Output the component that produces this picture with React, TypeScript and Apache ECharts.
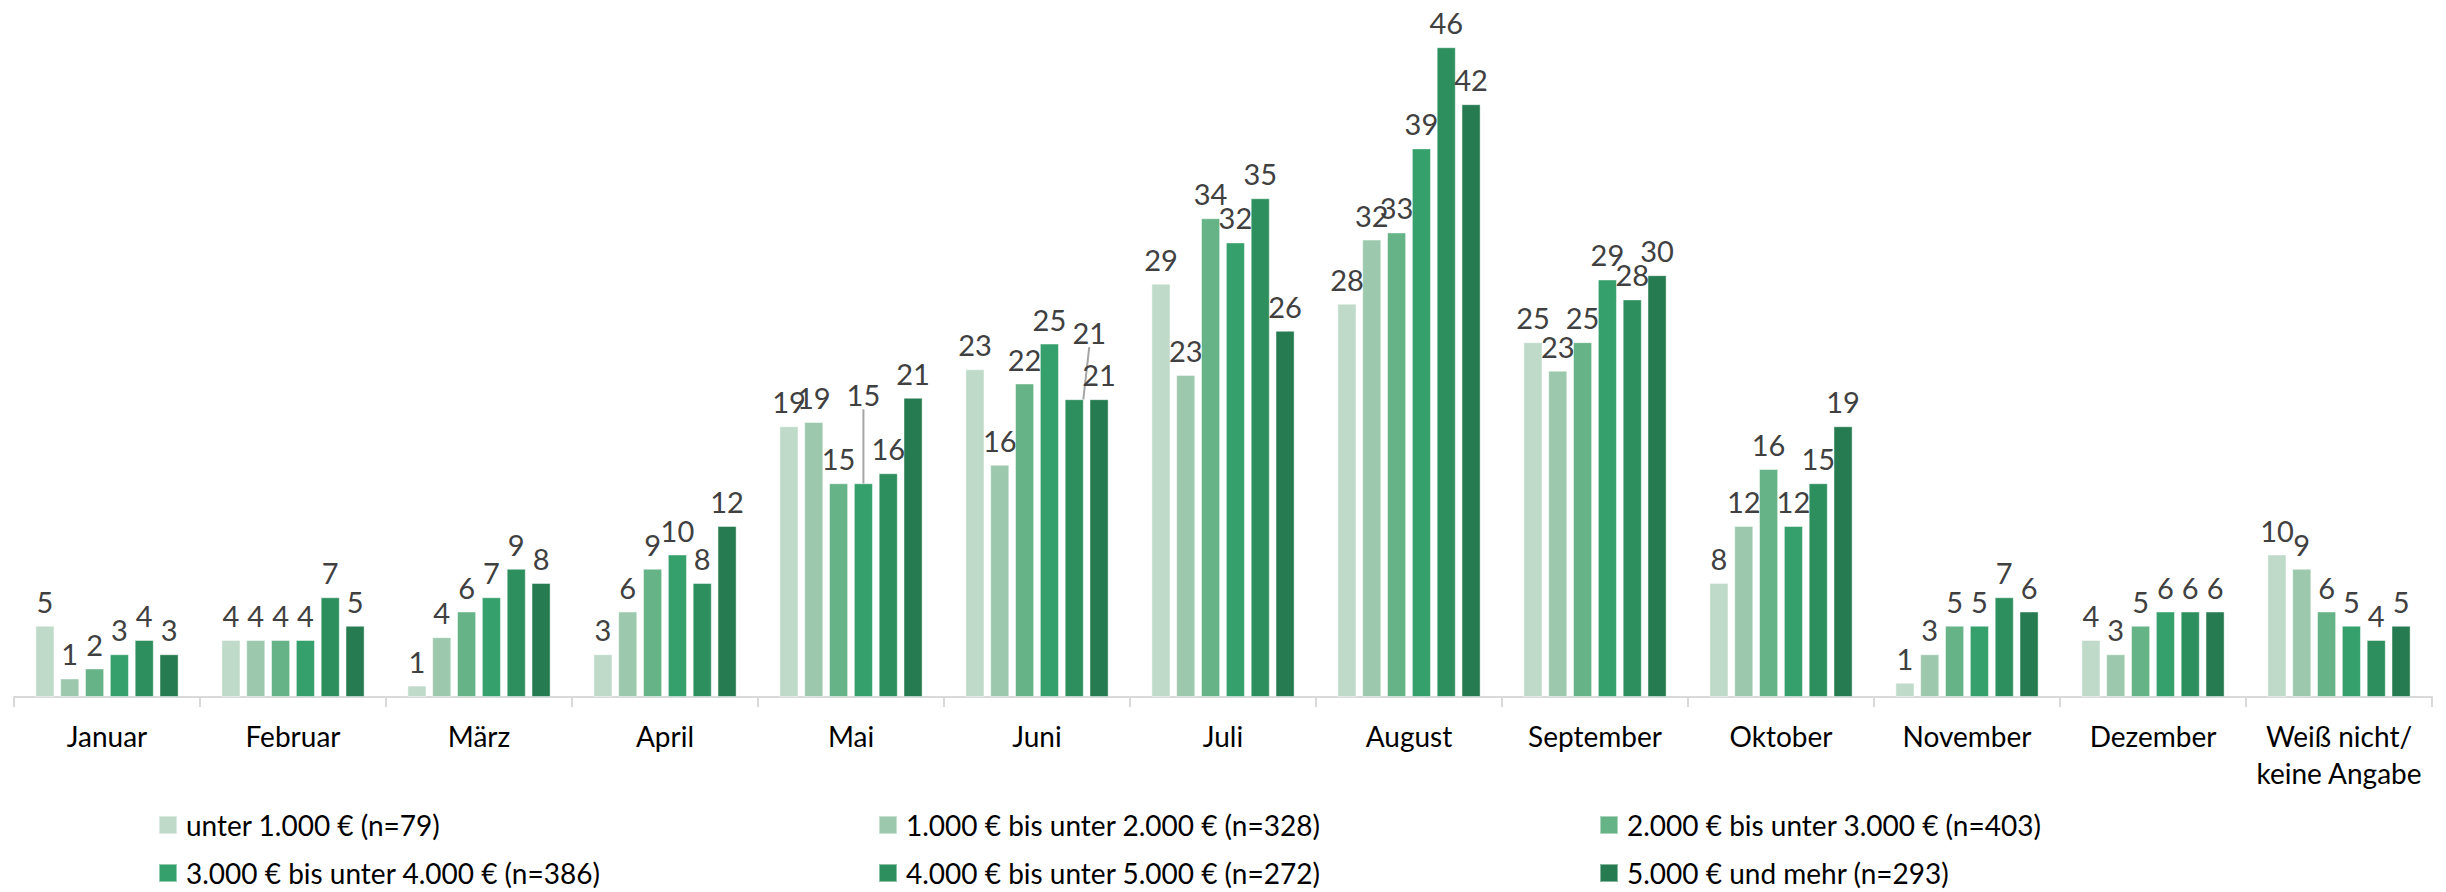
import React, { useEffect, useRef } from "react";
import * as echarts from "echarts";

const categories = [
  "Januar",
  "Februar",
  "März",
  "April",
  "Mai",
  "Juni",
  "Juli",
  "August",
  "September",
  "Oktober",
  "November",
  "Dezember",
  "Weiß nicht/\nkeine Angabe",
];

const seriesNames = [
  "unter 1.000 € (n=79)",
  "1.000 € bis unter 2.000 € (n=328)",
  "2.000 € bis unter 3.000 € (n=403)",
  "3.000 € bis unter 4.000 € (n=386)",
  "4.000 € bis unter 5.000 € (n=272)",
  "5.000 € und mehr (n=293)",
];

const colors = ["#bfdac9", "#9cc9ad", "#66b387", "#35a06b", "#2e8f5e", "#267b50"];

const unter1000 = [5, 4, 0.8, 3, 19, 23, 29, 27.6, 24.9, 8, 1, 4, 10];
const bis2000 = [1.3, 4, 4.2, 6, 19.3, 16.3, 22.6, 32.1, 22.9, 12, 3, 3, 9];
const bis3000 = [2, 4, 6, 9, 15, 22, 33.6, 32.6, 24.9, 16, 5, 5, 6];
const bis4000 = [3, 4, 7, 10, 15, 24.8, 31.9, 38.5, 29.3, 12, 5, 6, 5];
const bis5000 = [4, 7, 9, 8, 15.7, 20.9, 35, 45.6, 27.9, 15, 7, 6, 4];
const ab5000 = [3, 5, 8, 12, 21, 20.9, 25.7, 41.6, 29.6, 19, 6, 6, 5];

const seriesValues = [unter1000, bis2000, bis3000, bis4000, bis5000, ab5000];

// labels moved away from their bars (series index, category index, dx, dy)
const movedLabels = [
  [3, 4, 0, -64],
  [4, 5, 15, -42],
];

const FONT = "Lato, 'Open Sans', 'Liberation Sans', sans-serif";

export default function App() {
  const ref = useRef<HTMLDivElement>(null);

  useEffect(() => {
    if (!ref.current) return;
    const chart = echarts.init(ref.current, undefined, { renderer: "svg" });

    const legendX = [158, 878, 1599];
    const legendY = [811, 859];

    const series = seriesValues.map((vals, si) => ({
      name: seriesNames[si],
      type: "bar",
      barCategoryGap: "23%",
      barGap: "30%",
      itemStyle: {
        color: colors[si],
        borderColor: "rgba(255,255,255,0.45)",
        borderWidth: 1,
      },
      label: {
        show: true,
        position: "top",
        distance: 10,
        fontSize: 29,
        fontFamily: FONT,
        color: "#404040",
        formatter: (p: any) => String(Math.round(p.value)),
      },
      labelLayout: (params: any) => {
        const m = movedLabels.find((x) => x[0] === si && x[1] === params.dataIndex);
        if (m) return { dx: m[2], dy: m[3] };
        return {};
      },
      data: vals.map((v, ci) => {
        const m = movedLabels.find((x) => x[0] === si && x[1] === ci);
        if (m) {
          return {
            value: v,
            labelLine: { show: true, lineStyle: { color: "#a6a6a6", width: 2 } },
          };
        }
        return v;
      }),
    }));

    chart.setOption({
      animation: false,
      backgroundColor: "#ffffff",
      grid: { left: 14, right: 14, top: 13, bottom: 195, containLabel: false },
      legend: seriesNames.map((name, i) => ({
        data: [name],
        left: legendX[i % 3],
        top: legendY[Math.floor(i / 3)],
        icon: "rect",
        itemWidth: 18,
        itemHeight: 18,
        selectedMode: false,
        padding: 0,
        textStyle: {
          fontSize: 28,
          lineHeight: 26,
          fontFamily: FONT,
          color: "#000000",
          padding: [0, 0, 0, 4],
        },
      })),
      xAxis: {
        type: "category",
        data: categories,
        axisLine: { lineStyle: { color: "#d9d9d9", width: 2 } },
        axisTick: {
          show: true,
          length: 10,
          interval: 0,
          lineStyle: { color: "#d9d9d9", width: 2 },
        },
        axisLabel: {
          interval: 0,
          fontSize: 28,
          fontFamily: FONT,
          color: "#000000",
          margin: 20,
          lineHeight: 37,
        },
      },
      yAxis: {
        type: "value",
        min: 0,
        max: 48,
        show: false,
        splitLine: { show: false },
      },
      series,
    });

    return () => chart.dispose();
  }, []);

  return (
    <div
      ref={ref}
      style={{ position: "absolute", left: 0, top: 0, width: 2446, height: 892 }}
    />
  );
}
